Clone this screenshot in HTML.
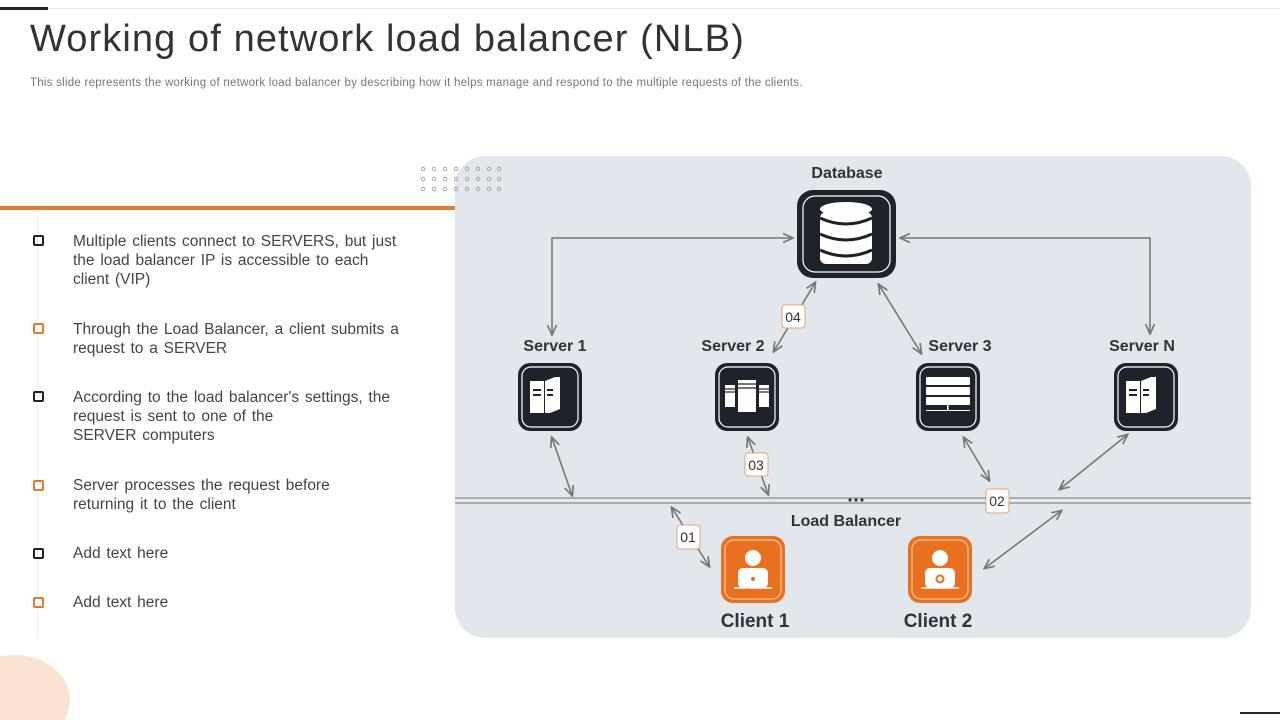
<!DOCTYPE html>
<html><head><meta charset="utf-8"><style>
html,body{margin:0;padding:0;overflow:hidden}
#w{width:1280px;height:720px;overflow:hidden;background:#fff;font-family:"Liberation Sans",Arial,sans-serif;position:relative}
.a{position:absolute}
h1{position:absolute;left:30px;top:18px;margin:0;font-weight:normal;font-size:38px;color:#333;letter-spacing:1.1px}
.sub{left:30px;top:77px;font-size:11.5px;color:#777;letter-spacing:0.25px;white-space:nowrap}
.item{position:absolute;left:73px;font-size:15.5px;line-height:19px;color:#444;width:340px;word-spacing:1.5px;white-space:nowrap}
.bx{position:absolute;left:33px;width:7px;height:7px;border:2px solid #222;border-radius:2px}
.bx.o{border-color:#e07b2a}
</style></head><body><div id="w">
<div class="a" style="left:0;top:7px;width:48px;height:3px;background:#222"></div>
<div class="a" style="left:48px;top:8px;width:1232px;height:1px;background:#e5e5e5"></div>
<h1>Working of network load balancer (NLB)</h1>
<div class="a sub">This slide represents the working of network load balancer by describing how it helps manage and respond to the multiple requests of the clients.</div>
<div class="a" style="left:0;top:206px;width:455px;height:4px;background:#e07b2a"></div>
<div class="a" style="left:37px;top:212px;width:1px;height:426px;background:#eee"></div>
<div class="a" style="left:-40px;top:655px;width:110px;height:90px;border-radius:50%;background:#fbe3d3"></div>
<div class="a" style="left:1240px;top:712px;width:40px;height:2px;background:#222"></div>

<div class="bx" style="top:235px"></div><div class="item" style="top:232px">Multiple clients connect to SERVERS, but just<br>the load balancer IP is accessible to each<br>client (VIP)</div>
<div class="bx o" style="top:323px"></div><div class="item" style="top:320px">Through the Load Balancer, a client submits a<br>request to a SERVER</div>
<div class="bx" style="top:391px"></div><div class="item" style="top:388px">According to the load balancer's settings, the<br>request is sent to one of the<br>SERVER computers</div>
<div class="bx o" style="top:480px"></div><div class="item" style="top:476px">Server processes the request before<br>returning it to the client</div>
<div class="bx" style="top:548px"></div><div class="item" style="top:544px">Add text here</div>
<div class="bx o" style="top:597px"></div><div class="item" style="top:593px">Add text here</div>

<svg class="a" style="left:0;top:0" width="1280" height="720" font-family="Liberation Sans, Arial, sans-serif">
<defs>
<marker id="m" viewBox="0 0 10 10" refX="8" refY="5" markerWidth="7" markerHeight="7" orient="auto-start-reverse"><path d="M0,1 L9,5 L0,9" fill="none" stroke="#777" stroke-width="1.5"/></marker>
<g id="box"><rect x="0" y="0" width="64" height="68" rx="12" fill="#1e232b"/><rect x="4" y="4" width="56" height="60" rx="9" fill="none" stroke="#fff" stroke-width="1.2"/></g>
<g id="cbox"><rect x="0" y="0" width="64" height="67" rx="12" fill="#e8701e"/><rect x="4" y="4" width="56" height="59" rx="9" fill="none" stroke="#f7c9a5" stroke-width="1.2"/></g>
</defs>
<rect x="455" y="156" width="796" height="482" rx="30" fill="#e2e6ed"/>
<g fill="none" stroke="#999" stroke-width="0.8">
<circle cx="423" cy="169" r="1.8"/><circle cx="434" cy="169" r="1.8"/><circle cx="445" cy="169" r="1.8"/><circle cx="456" cy="169" r="1.8"/><circle cx="467" cy="169" r="1.8"/><circle cx="478" cy="169" r="1.8"/><circle cx="489" cy="169" r="1.8"/><circle cx="499" cy="169" r="1.8"/>
<circle cx="423" cy="179" r="1.8"/><circle cx="434" cy="179" r="1.8"/><circle cx="445" cy="179" r="1.8"/><circle cx="456" cy="179" r="1.8"/><circle cx="467" cy="179" r="1.8"/><circle cx="478" cy="179" r="1.8"/><circle cx="489" cy="179" r="1.8"/><circle cx="499" cy="179" r="1.8"/>
<circle cx="423" cy="189" r="1.8"/><circle cx="434" cy="189" r="1.8"/><circle cx="445" cy="189" r="1.8"/><circle cx="456" cy="189" r="1.8"/><circle cx="467" cy="189" r="1.8"/><circle cx="478" cy="189" r="1.8"/><circle cx="489" cy="189" r="1.8"/><circle cx="499" cy="189" r="1.8"/>
</g>
<line x1="455" y1="498" x2="1251" y2="498" stroke="#888" stroke-width="1.2"/>
<line x1="455" y1="503" x2="1251" y2="503" stroke="#888" stroke-width="1.2"/>
<circle cx="850" cy="500" r="1.5" fill="#222"/><circle cx="856" cy="500" r="1.5" fill="#222"/><circle cx="862" cy="500" r="1.5" fill="#222"/>

<g stroke="#777" stroke-width="1.6" fill="none" marker-start="url(#m)" marker-end="url(#m)">
<polyline points="792,238 552,238 552,334"/>
<polyline points="901,238 1150,238 1150,333"/>
<line x1="815" y1="283" x2="774" y2="351"/>
<line x1="879" y1="285" x2="921" y2="353"/>
<line x1="552" y1="438" x2="572" y2="495"/>
<line x1="748" y1="438" x2="768" y2="494"/>
<line x1="964" y1="438" x2="989" y2="480"/>
<line x1="1127" y1="435" x2="1060" y2="489"/>
<line x1="672" y1="508" x2="709" y2="566"/>
<line x1="985" y1="568" x2="1061" y2="511"/>
</g>

<g font-size="14" fill="#333" text-anchor="middle">
<g stroke="#e8a06a" stroke-width="1" fill="#fff"><rect x="782" y="305" width="23" height="23" rx="3"/><rect x="745" y="453" width="23" height="23" rx="3"/><rect x="986" y="489" width="23" height="24" rx="3"/><rect x="677" y="525" width="23" height="24" rx="3"/></g>
<text x="793" y="322">04</text><text x="756" y="470">03</text><text x="997" y="506">02</text><text x="688" y="542">01</text>
</g>

<g font-size="16" font-weight="bold" fill="#333" text-anchor="middle">
<text x="847" y="178">Database</text>
<text x="555" y="351">Server 1</text><text x="733" y="351">Server 2</text><text x="960" y="351">Server 3</text><text x="1142" y="351">Server N</text>
<text x="846" y="526">Load Balancer</text>
<text x="755" y="627" font-size="19">Client 1</text><text x="938" y="627" font-size="19">Client 2</text>
</g>

<rect x="797" y="190" width="99" height="88" rx="16" fill="#1e232b"/>
<rect x="803" y="196" width="87" height="76" rx="12" fill="none" stroke="#fff" stroke-width="1.2"/>
<g fill="#fff"><ellipse cx="846" cy="209" rx="26" ry="7"/><rect x="820" y="212" width="52" height="52" rx="6"/></g>
<g stroke="#1e232b" stroke-width="3" fill="none"><path d="M820,218 Q846,230 872,218"/><path d="M820,234 Q846,246 872,234"/><path d="M820,250 Q846,262 872,250"/></g>

<g transform="translate(518,363)"><use href="#box"/><path d="M12,18 h14 v32 h-14z M27,18 l10,-4 h5 v32 l-10,4 h-5z" fill="#fff"/><g stroke="#1e232b" stroke-width="2"><line x1="15" y1="27" x2="23" y2="27"/><line x1="15" y1="32" x2="23" y2="32"/><line x1="29" y1="27" x2="35" y2="27"/><line x1="29" y1="32" x2="35" y2="32"/></g></g>
<g transform="translate(715,363)"><use href="#box"/><g fill="#fff"><rect x="10" y="22" width="10" height="22"/><rect x="23" y="17" width="18" height="32"/><rect x="44" y="22" width="10" height="22"/></g><g stroke="#1e232b" stroke-width="1.2"><line x1="10" y1="26" x2="20" y2="26"/><line x1="10" y1="29" x2="20" y2="29"/><line x1="23" y1="21" x2="41" y2="21"/><line x1="23" y1="25" x2="41" y2="25"/><line x1="44" y1="26" x2="54" y2="26"/><line x1="44" y1="29" x2="54" y2="29"/></g></g>
<g transform="translate(916,363)"><use href="#box"/><g fill="#fff"><rect x="10" y="14" width="44" height="8" rx="1"/><rect x="10" y="24" width="44" height="8" rx="1"/><rect x="10" y="34" width="44" height="8" rx="1"/><rect x="31" y="42" width="1.5" height="6"/><rect x="10" y="47" width="44" height="1"/></g></g>
<g transform="translate(1114,363)"><use href="#box"/><path d="M12,18 h14 v32 h-14z M27,18 l10,-4 h5 v32 l-10,4 h-5z" fill="#fff"/><g stroke="#1e232b" stroke-width="2"><line x1="15" y1="27" x2="23" y2="27"/><line x1="15" y1="32" x2="23" y2="32"/><line x1="29" y1="27" x2="35" y2="27"/><line x1="29" y1="32" x2="35" y2="32"/></g></g>

<g transform="translate(721,536)"><use href="#cbox"/><circle cx="32" cy="22" r="8" fill="#fff"/><rect x="17" y="32" width="30" height="20" rx="5" fill="#fff"/><line x1="13" y1="52" x2="51" y2="52" stroke="#fff" stroke-width="1.5"/><circle cx="32" cy="43" r="2" fill="#e8701e"/></g>
<g transform="translate(908,536)"><use href="#cbox"/><circle cx="32" cy="22" r="8" fill="#fff"/><rect x="17" y="32" width="30" height="20" rx="5" fill="#fff"/><line x1="13" y1="52" x2="51" y2="52" stroke="#fff" stroke-width="1.5"/><circle cx="32" cy="43" r="3.5" fill="none" stroke="#e8701e" stroke-width="2"/></g>
</svg>
</div></body></html>
